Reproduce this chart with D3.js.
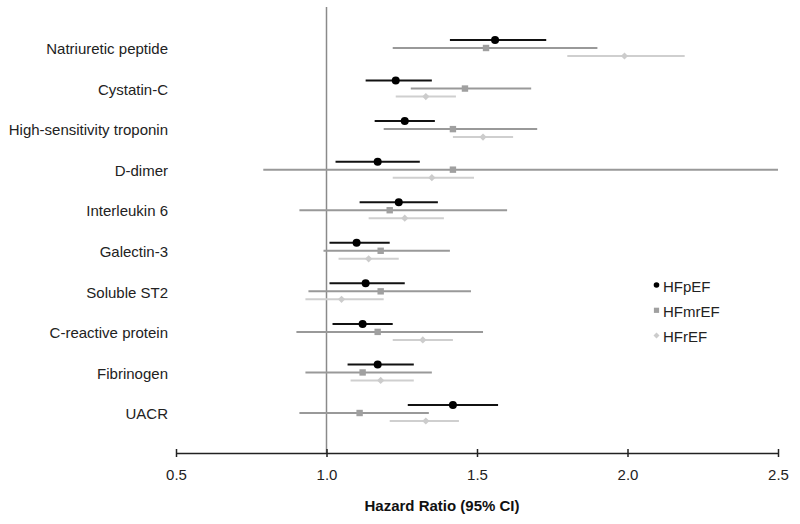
<!DOCTYPE html>
<html>
<head>
<meta charset="utf-8">
<script src="https://cdn.jsdelivr.net/npm/d3@7/dist/d3.min.js"></script>
<style>
  html, body { margin: 0; padding: 0; background: #fff; }
  svg { display: block; font-family: "Liberation Sans", Arial, Helvetica, sans-serif; }
</style>
</head>
<body>
<svg id="chart" width="800" height="524"></svg>
<script>
const categories = ["Natriuretic peptide", "Cystatin-C", "High-sensitivity troponin", "D-dimer",
  "Interleukin 6", "Galectin-3", "Soluble ST2", "C-reactive protein", "Fibrinogen", "UACR"];

const seriesNames = ["HFpEF", "HFmrEF", "HFrEF"];

const hfpefHR = [1.56, 1.23, 1.26, 1.17, 1.24, 1.10, 1.13, 1.12, 1.17, 1.42];
const hfpefLo = [1.41, 1.13, 1.16, 1.03, 1.11, 1.01, 1.01, 1.02, 1.07, 1.27];
const hfpefHi = [1.73, 1.35, 1.36, 1.31, 1.37, 1.21, 1.26, 1.22, 1.29, 1.57];

const hfmrefHR = [1.53, 1.46, 1.42, 1.42, 1.21, 1.18, 1.18, 1.17, 1.12, 1.11];
const hfmrefLo = [1.22, 1.28, 1.19, 0.79, 0.91, 0.99, 0.94, 0.90, 0.93, 0.91];
const hfmrefHi = [1.90, 1.68, 1.70, 2.50, 1.60, 1.41, 1.48, 1.52, 1.35, 1.34];

const hfrefHR = [1.99, 1.33, 1.52, 1.35, 1.26, 1.14, 1.05, 1.32, 1.18, 1.33];
const hfrefLo = [1.80, 1.23, 1.42, 1.22, 1.14, 1.04, 0.93, 1.22, 1.08, 1.21];
const hfrefHi = [2.19, 1.43, 1.62, 1.49, 1.39, 1.24, 1.19, 1.42, 1.29, 1.44];

const xTicks = [0.5, 1.0, 1.5, 2.0, 2.5];
const xTitle = "Hazard Ratio (95% CI)";

const series = [
  { name: seriesNames[0], hr: hfpefHR, lo: hfpefLo, hi: hfpefHi, line: "#111", fill: "#000", shape: "circle", off: -8 },
  { name: seriesNames[1], hr: hfmrefHR, lo: hfmrefLo, hi: hfmrefHi, line: "#999", fill: "#a0a0a0", shape: "square", off: 0 },
  { name: seriesNames[2], hr: hfrefHR, lo: hfrefLo, hi: hfrefHi, line: "#cfcfcf", fill: "#cccccc", shape: "diamond", off: 8 }
];

const svg = d3.select("#chart");
const x = d3.scaleLinear().domain([0.5, 2.5]).range([176, 778]);
const y = d3.scalePoint().domain(categories).range([48, 413]);
const axisY = 453;

// reference line at HR = 1
svg.append("line")
  .attr("x1", x(1)).attr("x2", x(1))
  .attr("y1", 7).attr("y2", axisY)
  .attr("stroke", "#8a8a8a").attr("stroke-width", 1.5);

// x axis
const axis = d3.axisBottom(x).tickValues(xTicks).tickFormat(d3.format(".1f")).tickSizeOuter(0).tickSize(0).tickPadding(16);
const gAxis = svg.append("g").attr("transform", `translate(0,${axisY})`).call(axis);
gAxis.select(".domain").attr("stroke", "#222").attr("stroke-width", 1.5);
gAxis.selectAll(".tick text").attr("font-size", 15).attr("fill", "#222")
  .attr("font-family", "Liberation Sans, Arial, sans-serif");
gAxis.selectAll(".tick").append("line")
  .attr("y1", -4).attr("y2", 4).attr("stroke", "#222").attr("stroke-width", 1.5);

svg.append("text")
  .attr("x", 442).attr("y", 511)
  .attr("text-anchor", "middle")
  .attr("font-size", 15).attr("font-weight", "bold").attr("fill", "#111")
  .text(xTitle);

// category labels
svg.append("g").selectAll("text").data(categories).join("text")
  .attr("x", 168).attr("y", d => y(d) + 1)
  .attr("dy", "0.35em")
  .attr("text-anchor", "end")
  .attr("font-size", 15).attr("fill", "#222")
  .text(d => d);

function drawMarker(g, shape, cx, cy, fill, s) {
  if (shape === "circle") {
    g.append("circle").attr("cx", cx).attr("cy", cy).attr("r", s).attr("fill", fill);
  } else if (shape === "square") {
    g.append("rect").attr("x", cx - s).attr("y", cy - s).attr("width", 2 * s).attr("height", 2 * s).attr("fill", fill);
  } else {
    g.append("path").attr("d", `M${cx},${cy - s}L${cx + s},${cy}L${cx},${cy + s}L${cx - s},${cy}Z`).attr("fill", fill);
  }
}

const sizes = { circle: 4, square: 3.2, diamond: 3.6 };

// draw series (HFrEF first, then HFmrEF, then HFpEF on top)
series.slice().reverse().forEach(s => {
  const g = svg.append("g");
  categories.forEach((c, i) => {
    const yy = y(c) + s.off;
    g.append("line")
      .attr("x1", x(s.lo[i])).attr("x2", x(s.hi[i]))
      .attr("y1", yy).attr("y2", yy)
      .attr("stroke", s.line).attr("stroke-width", 2);
    drawMarker(g, s.shape, x(s.hr[i]), yy, s.fill, sizes[s.shape]);
  });
});

// legend
const legend = svg.append("g");
const legendSizes = { circle: 2.8, square: 2.6, diamond: 3 };
series.forEach((s, i) => {
  const by = 291.5 + i * 25.3;
  drawMarker(legend, s.shape, 656.5, by - 6.5, s.fill, legendSizes[s.shape]);
  legend.append("text").attr("x", 663).attr("y", by)
    .attr("font-size", 15).attr("fill", "#222").text(s.name);
});
</script>
</body>
</html>
